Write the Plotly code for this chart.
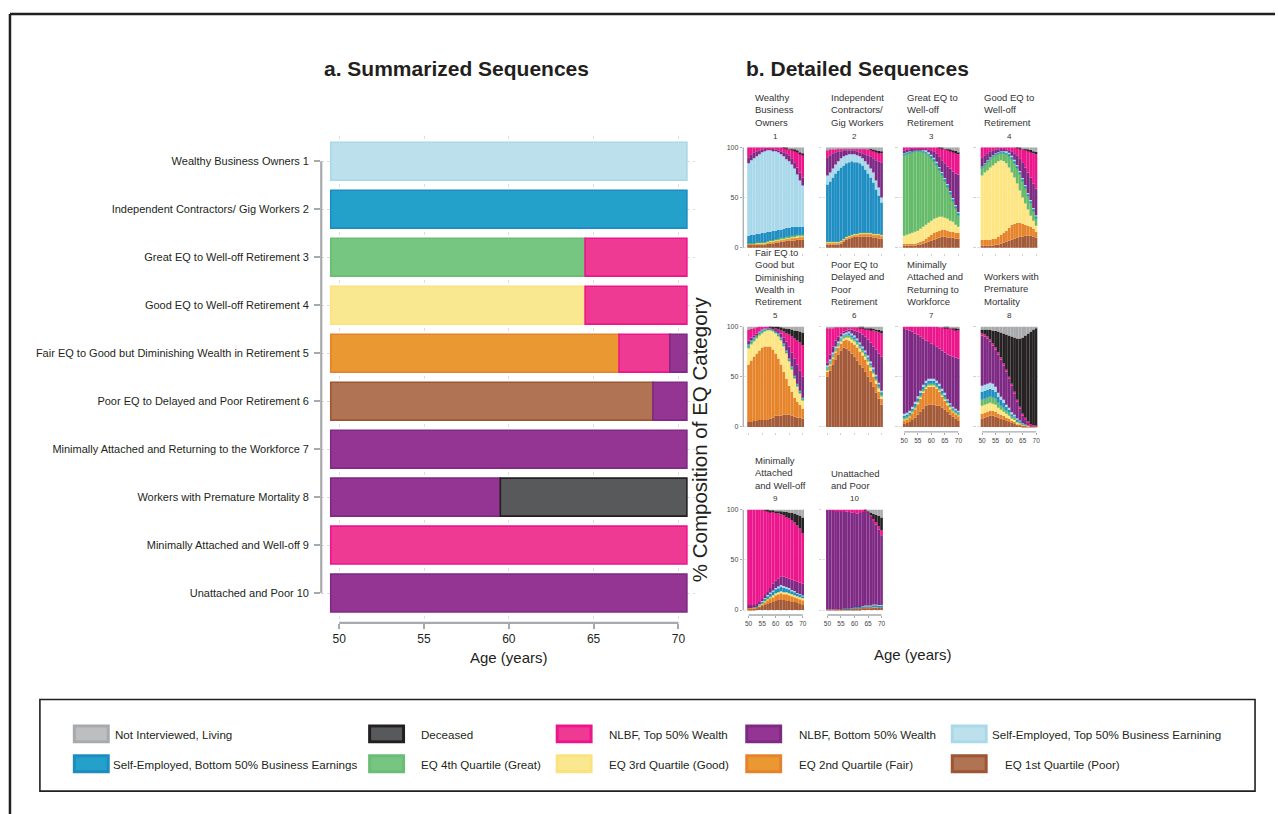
import plotly.graph_objects as go

W, H = 1278, 814
FONT = "Liberation Sans, Arial, sans-serif"


def px(x):
    return x / W


def py(y):
    return 1 - y / H


# ---------------------------------------------------------------- data
AGES = list(range(50, 71))
STATES = ["Poor", "Fair", "Good", "Great", "SE Bottom", "SE Top",
          "NLBF Bottom", "NLBF Top", "Deceased", "Not Interviewed"]

cluster_names = [
    "Wealthy Business Owners",
    "Independent Contractors/ Gig Workers",
    "Great EQ to Well-off Retirement",
    "Good EQ to Well-off Retirement",
    "Fair EQ to Good but Diminishing Wealth in Retirement",
    "Poor EQ to Delayed and Poor Retirement",
    "Minimally Attached and Returning to the Workforce",
    "Workers with Premature Mortality",
    "Minimally Attached and Well-off",
    "Unattached and Poor",
]
panel_titles = [
    "Wealthy<br>Business<br>Owners",
    "Independent<br>Contractors/<br>Gig Workers",
    "Great EQ to<br>Well-off<br>Retirement",
    "Good EQ to<br>Well-off<br>Retirement",
    "Fair EQ to<br>Good but<br>Diminishing<br>Wealth in<br>Retirement",
    "Poor EQ to<br>Delayed and<br>Poor<br>Retirement",
    "Minimally<br>Attached and<br>Returning to<br>Workforce",
    "Workers with<br>Premature<br>Mortality",
    "Minimally<br>Attached<br>and Well-off",
    "Unattached<br>and Poor",
]

# Panel a: summarized sequences (cluster, state, first age, last age)
seg_cluster = [1, 2, 3, 3, 4, 4, 5, 5, 5, 6, 6, 7, 8, 8, 9, 10]
seg_state = ["SE Top", "SE Bottom", "Great", "NLBF Top", "Good", "NLBF Top",
             "Fair", "NLBF Top", "NLBF Bottom", "Poor", "NLBF Bottom",
             "NLBF Bottom", "NLBF Bottom", "Deceased", "NLBF Top", "NLBF Bottom"]
seg_first_age = [50, 50, 50, 65, 50, 65, 50, 67, 70, 50, 69, 50, 50, 60, 50, 50]
seg_last_age = [70, 70, 64, 70, 64, 70, 66, 69, 70, 68, 70, 70, 59, 70, 70, 70]

# Panel b: % composition by age (ages 50..70)
wealthy_business_owners = {
    "Poor": [3, 3, 3, 3, 3, 3, 3, 4, 4, 4, 5, 5, 6, 6, 7, 7, 7, 7, 8, 8, 8],
    "Fair": [0.5, 0.5, 0.5, 1, 1, 1, 1, 1, 2, 2, 2, 2, 2, 2, 2, 2, 3, 3, 2, 3, 3],
    "Good": [0.5, 0.5, 0.5, 0.5, 0.5, 1, 1, 1, 1, 1, 1, 1, 1, 1, 1, 1, 1, 1, 2, 1, 1],
    "Great": [0.5, 0.5, 0.5, 0.5, 0.5, 0.5, 0.5, 0.5, 0.5, 0.5, 0.5, 1, 1, 1, 1, 1, 1, 1, 1, 1, 1],
    "SE Bottom": [7.5, 8.5, 8.5, 9, 9, 9.5, 9.5, 9.5, 8.5, 9.5, 8.5, 9, 8, 9, 9, 9, 9, 9, 8, 8, 8],
    "SE Top": [72, 74, 76, 77, 79, 80, 81, 81, 81, 80, 79, 77, 75, 72, 68, 66, 62, 58, 52, 46, 41],
    "NLBF Bottom": [6, 6, 6, 5, 4, 3, 2.5, 2, 2, 1.5, 2, 2, 3, 4, 6, 6, 6, 6, 7, 8, 8],
    "NLBF Top": [10, 7, 5, 4, 3, 2, 1.5, 1, 1, 1.5, 2, 3, 4, 4.5, 5, 6.5, 9, 12, 16, 19, 23],
    "Deceased": [0, 0, 0, 0, 0, 0, 0, 0, 0, 0, 0, 0, 0, 0.5, 0.5, 0.5, 0.5, 1, 1, 1, 1],
    "Not Interviewed": [0, 0, 0, 0, 0, 0, 0, 0, 0, 0, 0, 0, 0, 0, 0.5, 1, 1.5, 2, 3, 5, 6],
}
independent_contractors = {
    "Poor": [3, 3, 3, 3, 3, 4, 6, 8, 9, 10, 11, 11, 11, 11, 11, 11, 11, 10, 10, 9, 9],
    "Fair": [2, 2, 2, 2, 2, 2, 2, 2, 2, 2, 2, 2, 3, 3, 3, 3, 3, 3, 3, 4, 3],
    "Good": [0.5, 0.5, 0.5, 0.5, 0.5, 0.5, 0.5, 0.5, 0.5, 0.5, 0.5, 0.5, 0.5, 0.5, 0.5, 0.5, 0.5, 0.5, 0.5, 0.5, 0.5],
    "Great": [0.5, 0.5, 0.5, 0.5, 0.5, 0.5, 0.5, 0.5, 0.5, 0.5, 0.5, 0.5, 0.5, 0.5, 0.5, 0.5, 0.5, 0.5, 0.5, 0.5, 0.5],
    "SE Bottom": [57, 60, 64, 68, 71, 73, 73, 73, 73, 73, 71, 71, 69, 67, 63, 59, 55, 51, 44, 38, 32],
    "SE Top": [9, 9, 9, 9, 9, 9, 9, 8, 8, 7, 8, 7, 7, 7, 8, 9, 9, 10, 9, 8, 5],
    "NLBF Bottom": [18, 17, 15, 12, 10, 7, 6, 5, 4, 4, 4, 4, 4, 5, 7, 9, 12, 14, 20, 26, 35],
    "NLBF Top": [7, 6, 4, 3, 3, 3, 2, 2, 2, 2, 2, 3, 4, 5, 6, 6, 7, 8, 9, 9, 9],
    "Deceased": [0, 0, 0, 0, 0, 0, 0, 0, 0, 0, 0, 0, 0, 0, 0, 0, 0.5, 0.5, 1, 1.5, 2],
    "Not Interviewed": [3, 2, 2, 2, 1, 1, 1, 1, 1, 1, 1, 1, 1, 1, 1, 2, 1.5, 2.5, 3, 3.5, 4],
}
great_eq_welloff = {
    "Poor": [2, 2, 2, 2, 2, 3, 3, 4, 5, 6, 7, 8, 9, 10, 11, 11, 10, 10, 10, 9, 9],
    "Fair": [2, 2, 2, 2, 2, 2, 3, 3, 4, 5, 6, 7, 7, 7, 7, 7, 7, 6, 6, 6, 6],
    "Good": [8, 9, 10, 11, 12, 12, 13, 14, 14, 14, 14, 14, 14, 14, 13, 12, 12, 11, 10, 8, 6],
    "Great": [81, 81, 81, 81, 81, 80, 78, 75, 72, 68, 63, 58, 53, 47, 42, 37, 32, 27, 21, 17, 12],
    "SE Bottom": [0.5, 0.5, 0.5, 0.5, 0.5, 0.5, 0.5, 1, 1, 1, 1.5, 1.5, 1.5, 1.5, 1.5, 1.5, 1.5, 1.5, 1.5, 1.5, 1.5],
    "SE Top": [0.5, 0.5, 0.5, 0.5, 0.5, 0.5, 0.5, 0.5, 1, 1, 1, 1, 1, 1, 1, 1, 1, 1, 1, 1, 1],
    "NLBF Bottom": [3, 3, 2, 1.5, 1, 1, 1, 1.5, 2, 3, 4.5, 6.5, 8.5, 10.5, 11.5, 14.5, 17.5, 22.5, 26.5, 31.5, 37.5],
    "NLBF Top": [3, 2, 2, 1.5, 1, 1, 1, 1, 1, 2, 3, 4, 6, 8.5, 12, 14.5, 17, 18, 20, 21, 20],
    "Deceased": [0, 0, 0, 0, 0, 0, 0, 0, 0, 0, 0, 0, 0, 0.5, 0.5, 0.5, 0.5, 1, 1, 1.5, 2],
    "Not Interviewed": [0, 0, 0, 0, 0, 0, 0, 0, 0, 0, 0, 0, 0, 0, 0.5, 1, 1.5, 2, 3, 3.5, 5],
}
good_eq_welloff = {
    "Poor": [2, 2, 2, 2, 2, 3, 3, 4, 5, 6, 7, 8, 9, 10, 11, 11, 12, 12, 12, 11, 10],
    "Fair": [6, 6, 6, 6, 7, 6, 8, 9, 10, 11, 13, 15, 15, 15, 14, 13, 11, 10, 9, 8, 6],
    "Good": [64, 67, 69, 72, 73, 75, 75, 74, 71, 67, 60, 52, 46, 39, 32, 26, 21, 16, 11, 8, 6],
    "Great": [8, 8, 9, 9, 9, 9, 8, 8, 9, 10, 12, 14, 15, 16, 17, 17, 16, 14, 13, 10, 8],
    "SE Bottom": [0.5, 0.5, 0.5, 0.5, 0.5, 0.5, 0.5, 0.5, 1, 1, 1.5, 1.5, 1.5, 1.5, 1.5, 1.5, 1.5, 1.5, 1.5, 1.5, 1.5],
    "SE Top": [0.5, 0.5, 0.5, 0.5, 0.5, 0.5, 0.5, 0.5, 1, 1, 1, 1, 1, 1, 1, 1, 1, 1, 1, 1, 1],
    "NLBF Bottom": [9, 8, 7, 6, 5, 4, 3, 2.5, 1.5, 2, 2.5, 4.5, 6.5, 9.5, 12.5, 15.5, 17.5, 20.5, 22.5, 24.5, 26.5],
    "NLBF Top": [10, 8, 6, 4, 3, 2, 2, 1.5, 1.5, 2, 3, 4, 6, 7.5, 10, 13.5, 18, 22, 26, 30, 34],
    "Deceased": [0, 0, 0, 0, 0, 0, 0, 0, 0, 0, 0, 0, 0, 0.5, 0.5, 0.5, 1, 1, 1.5, 2, 2.5],
    "Not Interviewed": [0, 0, 0, 0, 0, 0, 0, 0, 0, 0, 0, 0, 0, 0, 0.5, 1, 1, 2, 2.5, 4, 4.5],
}
fair_eq_diminishing = {
    "Poor": [5, 5, 6, 6, 7, 7, 7, 7, 8, 9, 11, 11, 11, 12, 12, 12, 11, 10, 9, 9, 8],
    "Fair": [57, 61, 64, 67, 69, 72, 73, 73, 72, 68, 62, 57, 51, 43, 36, 29, 24, 19, 16, 13, 10],
    "Good": [16, 16, 15, 15, 15, 14, 15, 16, 16, 18, 20, 22, 24, 25, 25, 24, 22, 19, 15, 11, 8],
    "Great": [3, 3, 3, 3, 3, 3, 2, 2, 2, 2, 2, 2, 2, 2, 2, 2, 2, 2, 2, 2, 2],
    "SE Bottom": [0.5, 0.5, 0.5, 0.5, 0.5, 0.5, 0.5, 0.5, 0.5, 0.5, 0.5, 0.5, 0.5, 0.5, 0.5, 0.5, 0.5, 0.5, 0.5, 0.5, 0.5],
    "SE Top": [0.5, 0.5, 0.5, 0.5, 0.5, 0.5, 0.5, 0.5, 0.5, 0.5, 0.5, 0.5, 0.5, 0.5, 0.5, 0.5, 0.5, 0.5, 0.5, 0.5, 0.5],
    "NLBF Bottom": [4, 3, 2, 1, 0, 0, 0, 0, 0, 0.5, 1.5, 3, 4, 6, 9, 12, 14, 17, 19, 20, 21],
    "NLBF Top": [11, 9, 8, 6.5, 5, 3, 2, 1, 0.5, 0.5, 0.5, 1, 3, 6, 8, 12, 16, 20, 24, 28, 31],
    "Deceased": [0, 0, 0, 0, 0, 0, 0, 0, 0.5, 1, 2, 3, 3.5, 4, 5, 5.5, 7, 8, 9.5, 11, 13],
    "Not Interviewed": [3, 2, 1, 0.5, 0, 0, 0, 0, 0, 0, 0, 0, 0.5, 1, 2, 2.5, 3, 4, 4.5, 5, 6],
}
poor_eq_delayed = {
    "Poor": [50, 56, 62, 67, 72, 76, 79, 78, 76, 73, 70, 66, 62, 59, 55, 50, 45, 40, 34, 28, 22],
    "Fair": [5, 5, 6, 7, 7, 7, 7, 9, 10, 11, 12, 13, 13, 12, 12, 12, 11, 10, 9, 7, 6],
    "Good": [2, 2, 2, 2, 2, 3, 3, 3, 4, 4, 4, 4, 4, 4, 4, 4, 4, 4, 4, 4, 3],
    "Great": [1, 1, 1, 1, 1, 1, 1, 1, 1, 1, 1, 1, 1, 1, 1, 1, 1, 1, 1, 1, 1],
    "SE Bottom": [2, 2, 2, 2, 2, 2, 2, 2, 3, 3, 3, 3, 3, 3, 3, 3, 3, 3, 3, 3, 3],
    "SE Top": [1, 1, 1, 1, 1, 1, 1, 1, 1, 1, 1, 1, 1, 1, 1, 1, 1, 1, 1, 1, 1],
    "NLBF Bottom": [3, 5, 6, 6, 5, 3, 2, 2, 2, 4, 5, 7, 10, 12, 14, 16, 19, 21, 25, 29, 34],
    "NLBF Top": [34.5, 27, 19, 13.5, 9.5, 6.5, 4.5, 3.5, 2.5, 2.5, 3.5, 4.5, 5, 7, 8, 10.5, 13, 16, 18, 21, 23],
    "Deceased": [0, 0, 0, 0, 0, 0, 0, 0, 0, 0, 0, 0, 0.5, 0.5, 1, 1, 1.5, 2, 2, 2.5, 3],
    "Not Interviewed": [1.5, 1, 1, 0.5, 0.5, 0.5, 0.5, 0.5, 0.5, 0.5, 0.5, 0.5, 0.5, 0.5, 1, 1.5, 1.5, 2, 3, 3.5, 4],
}
minimally_attached_returning = {
    "Poor": [3, 4, 5, 7, 9, 12, 15, 18, 21, 22, 22, 22, 21, 21, 19, 17, 15, 12, 10, 8, 6],
    "Fair": [4, 4, 5, 7, 9, 11, 13, 16, 17, 18, 18, 18, 17, 14, 11, 9, 7, 6, 5, 5, 5],
    "Good": [1, 1, 1, 1, 1, 1.5, 2, 2, 2, 2, 2, 2, 2, 2, 2, 2, 1.5, 1.5, 1, 1, 1],
    "Great": [1, 1, 1, 1, 1, 1, 1, 1, 1, 1, 1, 1, 1, 1, 1, 1, 1, 1, 1, 1, 1],
    "SE Bottom": [2, 2, 2, 2, 3, 3, 3, 3, 3, 3, 3, 3, 3, 3, 3, 3, 2, 2, 2, 2, 2],
    "SE Top": [2, 2, 2, 2, 2, 2, 2, 2, 2, 2, 2, 2, 2, 2, 2, 2, 1, 1, 1, 1, 1],
    "NLBF Bottom": [84.5, 83, 80, 75, 68, 61.5, 54, 46, 40, 36.5, 35, 33.5, 34, 35, 38, 40, 44.5, 47.5, 50, 51, 52],
    "NLBF Top": [2.5, 3, 4, 5, 7, 8, 10, 12, 14, 15.5, 17, 18.5, 20, 21.5, 23.5, 25, 27, 27.5, 28, 28, 28],
    "Deceased": [0, 0, 0, 0, 0, 0, 0, 0, 0, 0, 0, 0, 0, 0, 0, 0.5, 0.5, 0.5, 1, 1.5, 2],
    "Not Interviewed": [0, 0, 0, 0, 0, 0, 0, 0, 0, 0, 0, 0, 0, 0.5, 0.5, 0.5, 0.5, 1, 1, 1.5, 2],
}
premature_mortality = {
    "Poor": [8, 9, 10, 11, 11, 10, 9, 8, 7, 6, 5, 4, 3, 2, 2, 1, 1, 0.5, 0.5, 0.5, 0],
    "Fair": [5, 5, 5, 5, 5, 5, 4, 4, 4, 3, 3, 2, 2, 1, 1, 1, 0.5, 0.5, 0.5, 0.5, 0.5],
    "Good": [8, 8, 8, 8, 7, 7, 6, 5, 4, 4, 3, 2, 2, 1.5, 1, 0.5, 0.5, 0.5, 0, 0, 0],
    "Great": [6, 6, 6, 6, 6, 6, 5, 4, 4, 3, 3, 2, 2, 1.5, 1, 0.5, 0.5, 0, 0, 0, 0],
    "SE Bottom": [8, 8, 8, 8, 8, 7, 6, 6, 5, 4, 3, 3, 2, 1.5, 1, 0.5, 0.5, 0, 0, 0, 0],
    "SE Top": [6, 6, 6, 6, 6, 5, 4, 3, 3, 2, 2, 1.5, 1, 1, 0.5, 0.5, 0, 0, 0, 0, 0],
    "NLBF Bottom": [50, 48, 45, 41, 38, 37, 38, 37, 34, 33, 29, 26.5, 21, 16.5, 11.5, 7, 4, 2.5, 1, 0.5, 0.5],
    "NLBF Top": [2, 2, 2, 2, 2, 2, 2, 2, 2, 2, 2, 2, 2, 2, 2, 2, 2, 1.5, 1, 0.5, 0.5],
    "Deceased": [4, 5, 7, 9.5, 13, 16.5, 21, 25, 30, 35, 41, 47, 54, 61, 68, 76, 82, 87.5, 92, 95, 97.5],
    "Not Interviewed": [3, 3, 3, 3.5, 4, 4.5, 5, 6, 7, 8, 9, 10, 11, 12, 12, 11, 9, 7, 5, 3, 1],
}
minimally_attached_welloff = {
    "Poor": [1, 1, 1.5, 2, 3, 4, 5, 6, 7, 8, 9, 10, 10, 10, 9, 9, 8, 8, 7, 6, 5],
    "Fair": [1, 1, 1, 1, 1, 2, 3, 4, 5, 5, 6, 6, 7, 6, 7, 6, 6, 5, 5, 5, 5],
    "Good": [0, 0, 0, 0, 0.5, 0.5, 1, 1, 1, 1.5, 1.5, 1.5, 1.5, 1.5, 1.5, 1.5, 1.5, 1.5, 1.5, 1.5, 1.5],
    "Great": [0, 0, 0, 0, 0, 0.5, 0.5, 0.5, 0.5, 0.5, 0.5, 0.5, 0.5, 0.5, 0.5, 0.5, 0.5, 0.5, 0.5, 0.5, 0.5],
    "SE Bottom": [0, 0, 0.5, 0.5, 1, 1.5, 2, 2.5, 3, 3.5, 4, 4, 4, 4, 3.5, 3.5, 3, 3, 2.5, 2.5, 2],
    "SE Top": [0, 0, 0, 0, 0.5, 0.5, 0.5, 1, 1, 1, 1, 1.5, 2, 2, 1.5, 1.5, 1, 1, 0.5, 0.5, 0.5],
    "NLBF Bottom": [3, 3, 2, 2.5, 2, 2, 3, 3, 4.5, 6.5, 7, 7.5, 8, 9, 9, 9, 10, 10, 11, 11, 11.5],
    "NLBF Top": [95, 95, 95, 94, 92, 89, 84.5, 81, 76, 71.5, 67.5, 65, 62, 61, 60.5, 60, 59.5, 58, 56, 54, 50],
    "Deceased": [0, 0, 0, 0, 0, 0, 0.5, 1, 1.5, 2, 2.5, 3, 3.5, 4, 5, 6, 7, 9, 11, 13, 16],
    "Not Interviewed": [0, 0, 0, 0, 0, 0, 0, 0, 0.5, 0.5, 1, 1, 1.5, 2, 2.5, 3, 3.5, 4, 5, 6, 8],
}
unattached_poor = {
    "Poor": [0.5, 0.5, 0.5, 0.5, 1, 1, 1, 1, 1, 1.5, 1.5, 1.5, 1.5, 2, 2, 2, 2, 2.5, 2.5, 2.5, 2.5],
    "Fair": [0, 0, 0, 0, 0, 0, 0, 0, 0, 0, 0.5, 0.5, 0.5, 0.5, 0.5, 0.5, 0.5, 0.5, 0.5, 0.5, 0.5],
    "Good": [0, 0, 0, 0, 0, 0, 0, 0, 0, 0, 0, 0, 0, 0, 0, 0, 0, 0, 0, 0, 0],
    "Great": [0, 0, 0, 0, 0, 0, 0, 0, 0, 0, 0, 0, 0, 0, 0, 0, 0, 0, 0, 0, 0],
    "SE Bottom": [0, 0, 0, 0, 0, 0, 0.5, 0.5, 0.5, 0.5, 1, 1, 1, 1, 1.5, 1.5, 1.5, 2, 2, 1.5, 1.5],
    "SE Top": [0, 0, 0, 0, 0, 0, 0, 0, 0, 0, 0, 0, 0, 0.5, 0.5, 0.5, 0.5, 0.5, 0.5, 0.5, 0.5],
    "NLBF Bottom": [99, 99, 99, 98.5, 98, 98, 97, 96.5, 96, 95, 93.5, 93, 93.5, 93.5, 94, 92.5, 89, 83.5, 79.5, 75, 69.5],
    "NLBF Top": [0.5, 0.5, 0.5, 1, 1, 1, 1.5, 2, 2.5, 3, 3.5, 4, 3.5, 2.5, 1, 0.5, 0.5, 1.5, 2.5, 3.5, 5],
    "Deceased": [0, 0, 0, 0, 0, 0, 0, 0, 0, 0, 0, 0, 0, 0, 0.5, 1.5, 3, 5, 7, 10, 12.5],
    "Not Interviewed": [0, 0, 0, 0, 0, 0, 0, 0, 0, 0, 0, 0, 0, 0, 0, 1, 3, 4.5, 5.5, 6.5, 8],
}
clusters = [wealthy_business_owners, independent_contractors, great_eq_welloff,
            good_eq_welloff, fair_eq_diminishing, poor_eq_delayed,
            minimally_attached_returning, premature_mortality,
            minimally_attached_welloff, unattached_poor]

legend_rows = [
    ["Not Interviewed", "Deceased", "NLBF Top", "NLBF Bottom", "SE Top"],
    ["SE Bottom", "Great", "Good", "Fair", "Poor"],
]
legend_labels = {
    "Not Interviewed": "Not Interviewed, Living",
    "Deceased": "Deceased",
    "NLBF Top": "NLBF, Top 50% Wealth",
    "NLBF Bottom": "NLBF, Bottom 50% Wealth",
    "SE Top": "Self-Employed, Top 50% Business Earnining",
    "SE Bottom": "Self-Employed, Bottom 50% Business Earnings",
    "Great": "EQ 4th Quartile (Great)",
    "Good": "EQ 3rd Quartile (Good)",
    "Fair": "EQ 2nd Quartile (Fair)",
    "Poor": "EQ 1st Quartile (Poor)",
}

# ---------------------------------------------------------------- styles
FILL = {"Not Interviewed": "#BCBEC0", "Deceased": "#58595B", "NLBF Top": "#EF3A93",
        "NLBF Bottom": "#943594", "SE Top": "#BDE1EC", "SE Bottom": "#24A1CB",
        "Great": "#76C581", "Good": "#FAE890", "Fair": "#EA9832", "Poor": "#B07454"}
EDGE = {"Not Interviewed": "#A7A9AC", "Deceased": "#231F20", "NLBF Top": "#EC168C",
        "NLBF Bottom": "#7F2A82", "SE Top": "#A9D8E8", "SE Bottom": "#1D8CC0",
        "Great": "#6ABD74", "Good": "#FBE27C", "Fair": "#E5822B", "Poor": "#9E5532"}
SMALL = {"Not Interviewed": "#A9AAAD", "Deceased": "#262223", "NLBF Top": "#EC168C",
         "NLBF Bottom": "#7E2A84", "SE Top": "#A8D8EA", "SE Bottom": "#1F8EC2",
         "Great": "#66BB6A", "Good": "#FDE582", "Fair": "#E6842B", "Poor": "#A35A38"}
AXIS_GRAY = "#A7A9AC"
TEXT = "#231F20"

fig = go.Figure()
shapes = []
annotations = []

# ---------------------------------------------------------------- panel a
for c, s, a0, a1 in zip(seg_cluster, seg_state, seg_first_age, seg_last_age):
    fig.add_trace(go.Bar(
        orientation="h", y=[c], x=[a1 - a0 + 1], base=[a0 - 0.5], width=0.79,
        marker=dict(color=FILL[s], line=dict(color=EDGE[s], width=1.6)),
        xaxis="x", yaxis="y", hoverinfo="skip"))

layout_axes = {}
layout_axes["xaxis"] = dict(
    domain=[px(322), px(697)], range=[48.94, 71.0], anchor="y",
    tickvals=[50, 55, 60, 65, 70], ticks="outside", ticklen=5, tickwidth=1.5,
    tickcolor=AXIS_GRAY, showline=False, zeroline=False,
    showgrid=True, gridcolor="#DDDDDD", griddash="dot", gridwidth=1,
    tickfont=dict(size=12, color=TEXT, family=FONT), fixedrange=True)
layout_axes["yaxis"] = dict(
    domain=[py(622), py(133)], range=[10.622, 0.4815], anchor="x",
    tickvals=list(range(1, 11)),
    ticktext=[f"{n} {i + 1} " for i, n in enumerate(cluster_names)],
    ticks="outside", ticklen=6, tickwidth=1.5, tickcolor=AXIS_GRAY,
    showline=False, zeroline=False,
    showgrid=True, gridcolor="#DDDDDD", griddash="dot", gridwidth=1,
    tickfont=dict(size=11, color=TEXT, family=FONT), fixedrange=True)
shapes.append(dict(type="line", xref="x", yref="y domain", x0=50, x1=70, y0=0, y1=0,
                   line=dict(color=AXIS_GRAY, width=2.2)))
shapes.append(dict(type="line", xref="x domain", yref="y", x0=0, x1=0, y0=1, y1=10,
                   line=dict(color=AXIS_GRAY, width=2.2)))

# ---------------------------------------------------------------- panel b
col_left = [749, 828, 905, 983]
row_top = [144, 324, 508]
title_left = [755, 831, 907, 984]
PW, PH = 57, 101
x_label_panels = {6, 7, 8, 9}
for k, data in enumerate(clusters):
    r, cidx = divmod(k, 4)
    n = k + 2
    xa, ya = f"x{n}", f"y{n}"
    totals = [sum(data[s][i] for s in STATES) for i in range(len(AGES))]
    base = [0.0] * len(AGES)
    for s in STATES:
        vals = [v * 100.0 / t for v, t in zip(data[s], totals)]
        fig.add_trace(go.Bar(
            x=AGES, y=vals, base=list(base), width=1.0,
            marker=dict(color=SMALL[s], line=dict(width=0)),
            xaxis=xa, yaxis=ya, hoverinfo="skip"))
        base = [b + v for b, v in zip(base, vals)]

    cl, rt = col_left[cidx], row_top[r]
    ppy = PW / 21.0
    layout_axes[f"xaxis{n}"] = dict(
        domain=[px(cl - 4), px(cl + PW)], range=[49.5 - 4 / ppy, 70.5], anchor=ya,
        tickvals=[50, 55, 60, 65, 70], ticks="outside", ticklen=2.5, tickwidth=1,
        tickcolor=AXIS_GRAY if k in x_label_panels else "#D3D3D3",
        showticklabels=k in x_label_panels, showline=False, zeroline=False,
        showgrid=False,
        tickfont=dict(size=6.5, color="#444444", family=FONT), fixedrange=True)
    layout_axes[f"yaxis{n}"] = dict(
        domain=[py(rt + PH + 5), py(rt)], range=[-5 * 100 / PH, 100], anchor=xa,
        tickvals=[0, 50, 100], ticks="outside", ticklen=2.5, tickwidth=1,
        tickcolor=AXIS_GRAY if cidx == 0 else "#D3D3D3",
        showticklabels=cidx == 0, showline=False, zeroline=False,
        showgrid=True, gridcolor="#E3E3E3", griddash="dot", gridwidth=1,
        tickfont=dict(size=7, color="#444444", family=FONT), fixedrange=True)
    if cidx == 0:
        shapes.append(dict(type="line", xref=f"{xa} domain", yref=ya, x0=0, x1=0,
                           y0=0, y1=100, line=dict(color=AXIS_GRAY, width=1.3)))
    if k in x_label_panels:
        shapes.append(dict(type="line", xref=xa, yref=f"{ya} domain", x0=50, x1=70,
                           y0=0, y1=0, line=dict(color=AXIS_GRAY, width=1.3)))
    annotations.append(dict(
        text=panel_titles[k], x=px(title_left[cidx]), y=py(rt - 17),
        xref="paper", yref="paper", xanchor="left", yanchor="bottom", align="left",
        showarrow=False, font=dict(size=9.5, color="#333333", family=FONT)))
    annotations.append(dict(
        text=str(k + 1), x=px(cl + PW / 2), y=py(rt - 11),
        xref="paper", yref="paper", xanchor="center", yanchor="middle",
        showarrow=False, font=dict(size=8, color="#333333", family=FONT)))

# ---------------------------------------------------------------- texts
annotations += [
    dict(text="<b>a. Summarized Sequences</b>", x=px(458), y=py(65), xref="paper",
         yref="paper", showarrow=False, xanchor="center", yanchor="middle",
         font=dict(size=21, color=TEXT, family=FONT)),
    dict(text="<b>b. Detailed Sequences</b>", x=px(860), y=py(65), xref="paper",
         yref="paper", showarrow=False, xanchor="center", yanchor="middle",
         font=dict(size=21, color=TEXT, family=FONT)),
    dict(text="Age (years)", x=px(510), y=py(657), xref="paper", yref="paper",
         showarrow=False, xanchor="center", yanchor="middle",
         font=dict(size=15, color=TEXT, family=FONT)),
    dict(text="Age (years)", x=px(915), y=py(654), xref="paper", yref="paper",
         showarrow=False, xanchor="center", yanchor="middle",
         font=dict(size=15, color=TEXT, family=FONT)),
    dict(text="% Composition of EQ Category", x=px(702), y=py(437), xref="paper",
         yref="paper", showarrow=False, xanchor="center", yanchor="middle",
         textangle=-90, font=dict(size=20.5, color=TEXT, family=FONT)),
]

# ---------------------------------------------------------------- legend
sw_left = [73, 369, 557, 747, 953]
txt_left = [[113, 420, 608, 799, 992], [111, 420, 608, 799, 1005]]
sw_top = [724, 754]
for r, row in enumerate(legend_rows):
    for cidx, s in enumerate(row):
        x0, y0 = sw_left[cidx], sw_top[r]
        shapes.append(dict(type="rect", xref="paper", yref="paper",
                           x0=px(x0), x1=px(x0 + 37), y0=py(y0 + 19), y1=py(y0),
                           fillcolor=EDGE[s], line=dict(width=0)))
        shapes.append(dict(type="rect", xref="paper", yref="paper",
                           x0=px(x0 + 3), x1=px(x0 + 34), y0=py(y0 + 16), y1=py(y0 + 3),
                           fillcolor=FILL[s], line=dict(width=0)))
        annotations.append(dict(
            text=legend_labels[s], x=px(txt_left[r][cidx]), y=py(y0 + 10.5),
            xref="paper", yref="paper", xanchor="left", yanchor="middle",
            showarrow=False, font=dict(size=11.6, color=TEXT, family=FONT)))

shapes.append(dict(type="rect", xref="paper", yref="paper", x0=px(40), x1=px(1258),
                   y0=py(791), y1=py(699), line=dict(color=TEXT, width=1.6)))
shapes.append(dict(type="line", xref="paper", yref="paper", x0=px(10), x1=1.0,
                   y0=py(10), y1=py(10), line=dict(color=TEXT, width=2.5)))
shapes.append(dict(type="line", xref="paper", yref="paper", x0=px(10), x1=px(10),
                   y0=py(10), y1=0.0, line=dict(color=TEXT, width=2.5)))

fig.update_layout(
    width=W, height=H, margin=dict(l=0, r=0, t=0, b=0),
    paper_bgcolor="white", plot_bgcolor="white",
    showlegend=False, barmode="overlay",
    font=dict(family=FONT, color=TEXT),
    shapes=shapes, annotations=annotations,
    **layout_axes)

fig.write_html("out.html")
